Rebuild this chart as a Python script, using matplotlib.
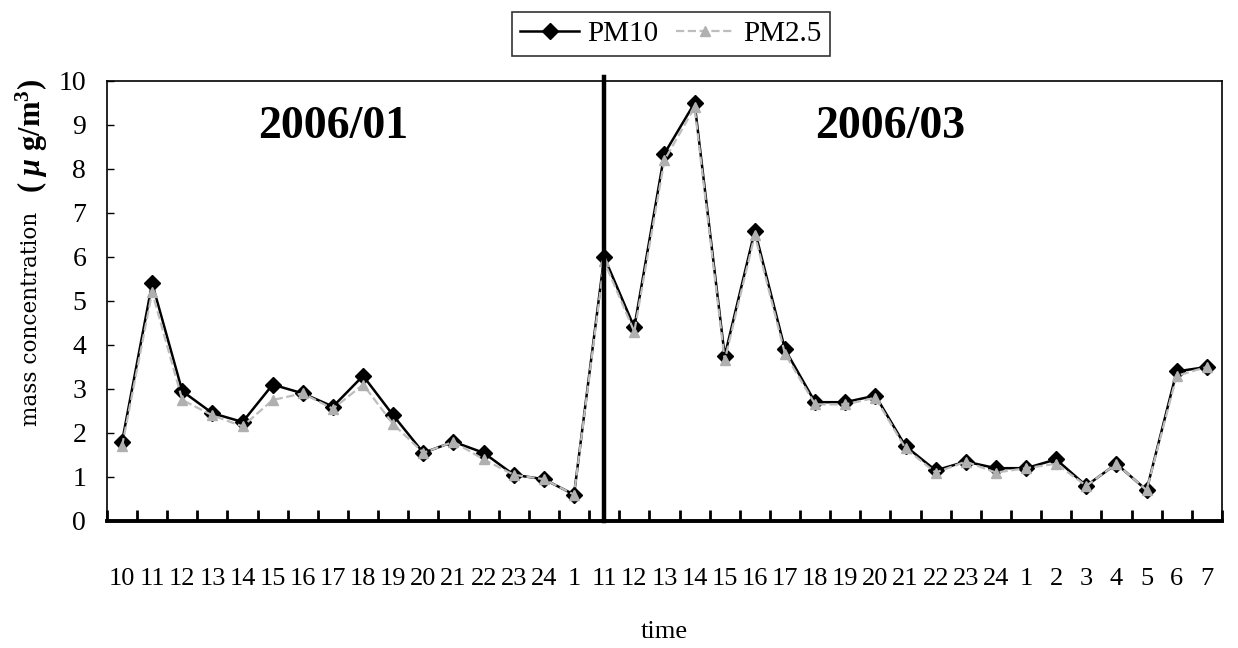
import numpy as np
import matplotlib
matplotlib.use("Agg")
import matplotlib.pyplot as plt

plt.rcParams['font.family'] = ['Liberation Serif', 'DejaVu Serif']
plt.rcParams['mathtext.fontset'] = 'custom'
plt.rcParams['mathtext.rm'] = 'Liberation Serif'
plt.rcParams['mathtext.bf'] = 'Liberation Serif:bold'
plt.rcParams['mathtext.it'] = 'Liberation Serif:italic:bold'

# hour labels: Jan 2006 then Mar 2006
hours = ['10', '11', '12', '13', '14', '15', '16', '17', '18', '19', '20', '21',
         '22', '23', '24', '1',
         '11', '12', '13', '14', '15', '16', '17', '18', '19', '20', '21', '22',
         '23', '24', '1', '2', '3', '4', '5', '6', '7']

pm10 = [1.8, 5.4, 2.95, 2.45, 2.25, 3.1, 2.9, 2.6, 3.3, 2.4, 1.55, 1.8,
        1.55, 1.05, 0.95, 0.6,
        6.0, 4.4, 8.35, 9.5, 3.75, 6.6, 3.9, 2.7, 2.7, 2.85, 1.7, 1.15,
        1.35, 1.2, 1.2, 1.4, 0.8, 1.3, 0.7, 3.4, 3.5]

pm25 = [1.7, 5.2, 2.75, 2.4, 2.15, 2.75, 2.9, 2.55, 3.1, 2.2, 1.55, 1.8,
        1.4, 1.05, 0.95, 0.6,
        5.9, 4.3, 8.2, 9.4, 3.65, 6.5, 3.8, 2.65, 2.65, 2.8, 1.65, 1.1,
        1.35, 1.1, 1.2, 1.3, 0.8, 1.3, 0.7, 3.3, 3.5]

split_idx = 16  # first March point

x = np.arange(len(hours))

fig = plt.figure(figsize=(12.38, 6.48), dpi=100)
ax = fig.add_axes([0.0864, 0.196, 0.9006, 0.679])

# PM10 black line with diamonds, PM2.5 grey dashed with triangles
ax.plot(x, pm10, color='black', lw=1.8, marker='D', ms=8, label='PM10', zorder=3)
ax.plot(x, pm25, color='#bdbdbd', lw=1.6, ls='--', marker='^', ms=6.5,
        markerfacecolor='#b0b0b0', markeredgecolor='#b0b0b0', label='PM2.5', zorder=4)

# divider between the two periods
ax.plot([split_idx, split_idx], [0, 10.08], color='black', lw=3.2, clip_on=False, zorder=5)

ax.text(7.0, 8.95, '2006/01', fontsize=33, fontweight='bold', ha='center', va='center')
ax.text(25.5, 8.95, '2006/03', fontsize=33, fontweight='bold', ha='center', va='center')

ax.set_xlim(-0.5, len(hours) - 0.5)
ax.set_ylim(0, 10)
ax.set_yticks(range(0, 11))
ax.tick_params(axis='y', direction='in', length=5, width=1, labelsize=20, pad=15)

ax.set_xticks(x)
ax.set_xticklabels(hours)
ax.set_xticks(np.arange(-0.5, len(hours)), minor=True)
ax.tick_params(axis='x', which='major', length=0, labelsize=19, pad=34)
ax.tick_params(axis='x', which='minor', direction='in', length=8, width=2)

for s in ['left', 'top', 'right']:
    ax.spines[s].set_linewidth(1.2)
ax.spines['bottom'].set_linewidth(2.8)

ax.set_xlabel('time', fontsize=19, labelpad=22)

# y label in two parts: plain words + bold unit
fig.text(0.025, 0.508, 'mass concentration', rotation=90, ha='center', va='center',
         fontsize=15.5, family='DejaVu Serif')
fig.text(0.026, 0.79, r'( $\mu$ g/m$^{\mathbf{3}}$)', rotation=90, ha='center', va='center',
         fontsize=22, fontweight='bold')

leg = fig.legend(loc='center', bbox_to_anchor=(0.542, 0.948), ncol=2, fontsize=21,
                 frameon=True, fancybox=False, edgecolor='black', handlelength=2.0,
                 columnspacing=0.6, handletextpad=0.3, borderpad=0.3)
leg.get_frame().set_linewidth(1.2)

fig.savefig('out.png', dpi=100)
